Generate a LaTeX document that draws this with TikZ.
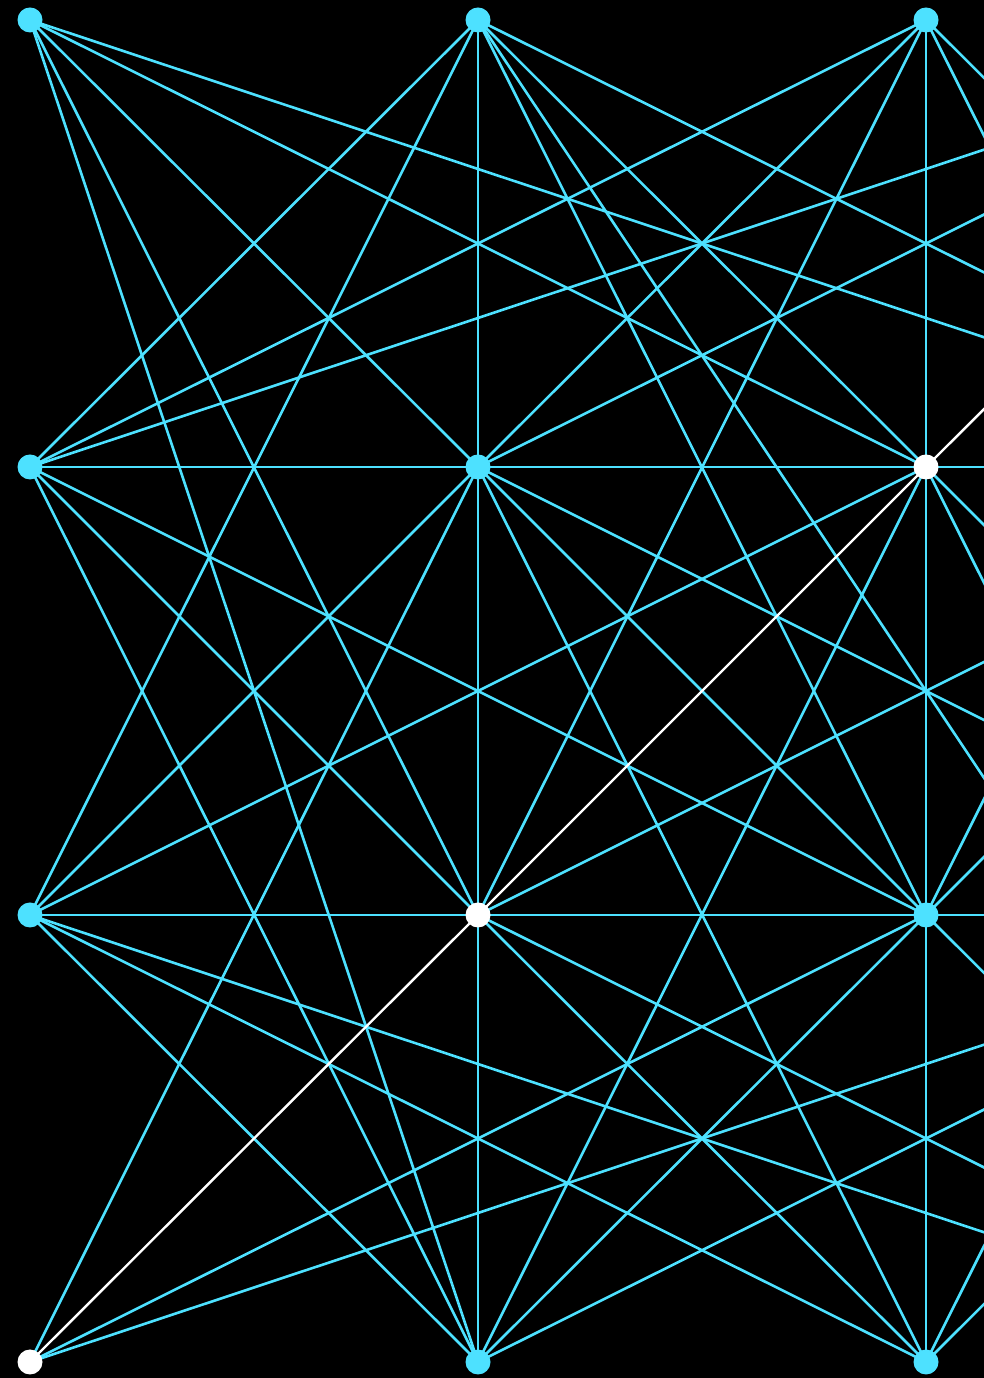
\documentclass[tikz,border=0pt]{standalone}
\definecolor{cyanline}{RGB}{77,225,255}
\begin{document}
\begin{tikzpicture}[x=1pt,y=1pt,
  vtx/.style={circle,fill=cyanline,inner sep=0pt,minimum size=25pt},
  hot/.style={circle,fill=white,inner sep=0pt,minimum size=25pt},
  edge/.style={draw=cyanline,line width=2.6pt},
  hotedge/.style={draw=white,line width=2.4pt}]
\fill[black] (0,0) rectangle (984,1378);
\useasboundingbox (0,0) rectangle (984,1378);
% coordinates of grid points
\foreach \c/\x in {0/30,1/478,2/926,3/1374}{
  \foreach \r/\y in {0/1358,1/911,2/463,3/16}{
    \coordinate (p\c\r) at (\x,\y);
  }
}
% cyan edges
\foreach \a/\b in {00/31,00/21,00/11,00/12,00/13,
  10/01,10/02,10/11,10/22,10/33,10/21,10/31,
  20/01,20/11,20/12,20/21,20/31,20/32,
  01/30,01/11,01/22,01/12,01/13,
  11/30,11/21,11/32,11/22,11/23,11/12,11/03,11/02,
  21/31,21/02,21/13,21/22,21/32,21/33,
  12/31,12/02,12/22,12/33,12/23,12/13,
  22/30,22/31,22/32,22/33,22/23,22/13,22/03,
  03/32,23/02,23/31,23/32,13/02,13/32,02/33}{
  \draw[edge] (p\a) -- (p\b);
}
% white path
\draw[hotedge] (p03) -- (p12) -- (p21) -- (p30);
% nodes
\foreach \n in {00,10,20,30,01,11,31,02,22,32,13,23,33}{
  \node[vtx] (n\n) at (p\n) {};
}
\foreach \n in {03,12,21}{
  \node[hot] (n\n) at (p\n) {};
}
\end{tikzpicture}
\end{document}
